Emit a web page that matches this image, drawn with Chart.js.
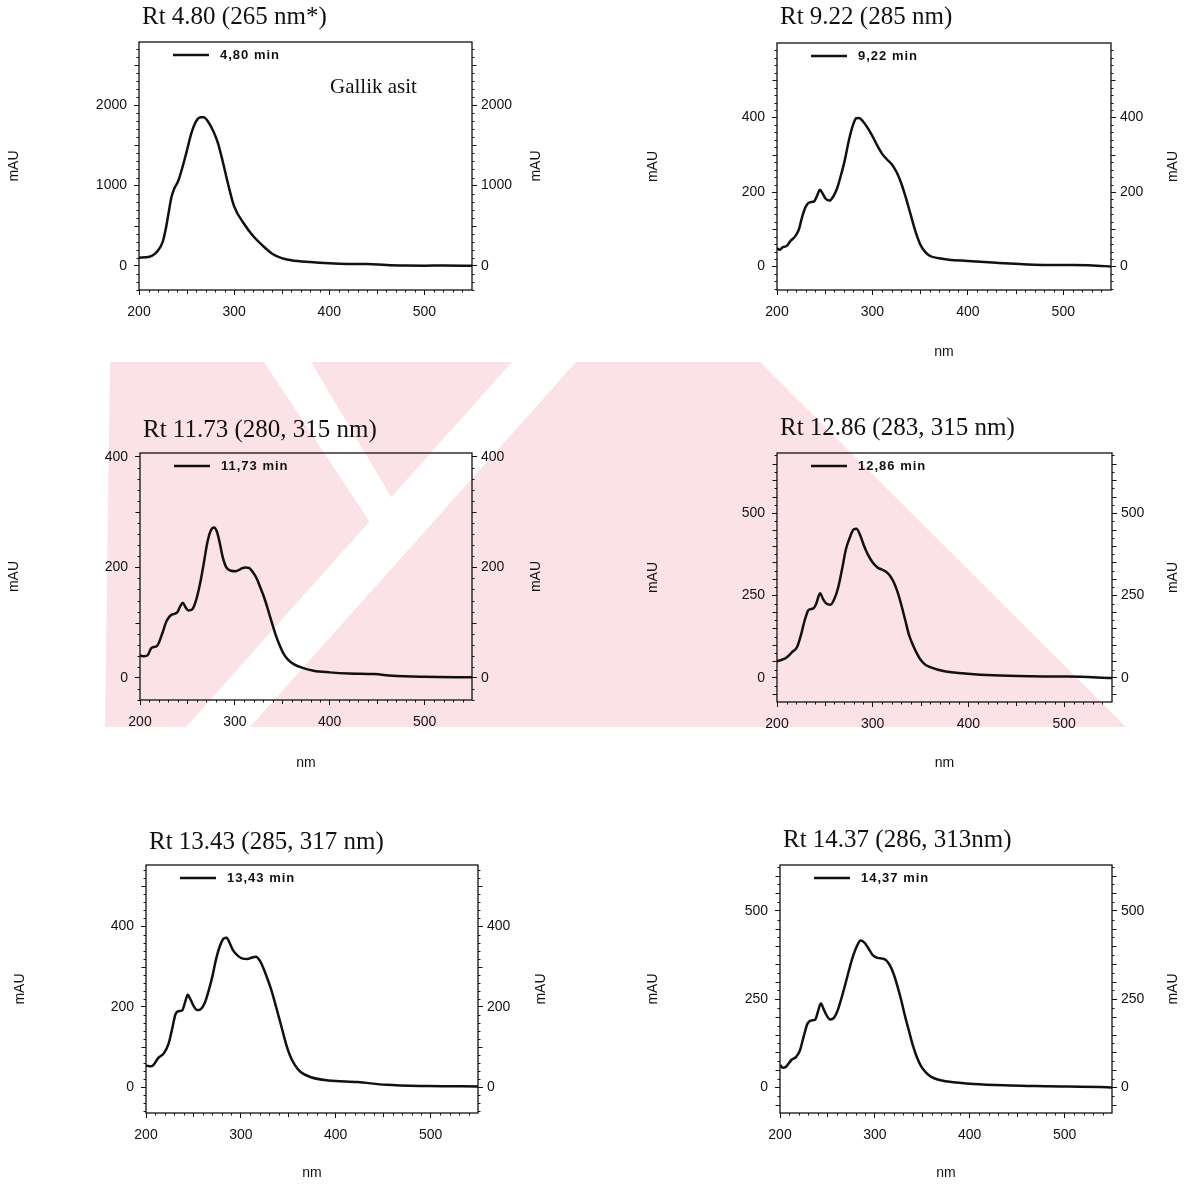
<!DOCTYPE html>
<html>
<head>
<meta charset="utf-8">
<script src="https://cdn.jsdelivr.net/npm/chart.js@4.4.1/dist/chart.umd.min.js"></script>
<style>
  html, body { margin: 0; padding: 0; background: #fff; }
  body { width: 1189px; height: 1185px; position: relative; overflow: hidden; }
  canvas, svg { position: absolute; }
</style>
</head>
<body>
<!-- faint scan watermark behind the middle row -->
<svg width="1189" height="1185" style="left:0;top:0">
  <path fill="#fbe2e6" d="M110 362 L760 362 L1126 727 L105 727 Z"/>
  <path fill="#fff" d="M264 362 L311 362 L396 505 L373 527 Z"/>
  <path fill="#fff" d="M512 362 L576 362 L250 727 L186 727 Z"/>
</svg>
<script>
// UV spectra (nm -> mAU)
const wl480 = [200, 211, 220, 225, 228, 231, 234, 237, 241, 245, 250, 255, 260, 265, 268, 273, 278, 283, 288, 294, 300, 310, 320, 330, 340, 350, 360, 380, 400, 420, 440, 460, 480, 500, 520, 550];
const mau480 = [100, 112, 190, 300, 450, 650, 850, 960, 1050, 1200, 1420, 1650, 1800, 1850, 1850, 1790, 1680, 1530, 1300, 1000, 740, 530, 370, 250, 150, 95, 68, 45, 30, 22, 20, 8, 2, 0, 2, 0];

const wl922 = [200, 203, 206, 210, 214, 219, 223, 226, 230, 234, 239, 242, 245, 248, 251, 255, 259, 263, 267, 271, 275, 279, 283, 286, 290, 295, 300, 305, 310, 315, 320, 325, 330, 335, 340, 345, 350, 355, 360, 370, 380, 400, 430, 470, 500, 530, 550];
const mau922 = [49, 45, 52, 55, 68, 81, 100, 130, 160, 172, 175, 190, 206, 195, 182, 177, 188, 210, 245, 285, 335, 375, 398, 399, 390, 372, 350, 325, 303, 288, 275, 255, 225, 185, 140, 95, 60, 40, 29, 22, 18, 15, 10, 5, 4, 3, 0];

const wl1173 = [200, 203, 208, 212, 218, 223, 228, 233, 239, 242, 245, 248, 251, 255, 259, 263, 267, 271, 275, 278, 281, 284, 287, 291, 296, 301, 306, 311, 315, 319, 323, 327, 331, 335, 339, 343, 347, 351, 356, 362, 370, 383, 400, 420, 447, 466, 500, 550];
const mau1173 = [41, 39, 41, 54, 58, 78, 103, 114, 118, 128, 136, 128, 122, 124, 140, 168, 205, 245, 268, 272, 265, 245, 220, 200, 194, 193, 197, 200, 199, 191, 180, 163, 145, 123, 100, 78, 60, 45, 33, 25, 19, 13, 10, 8, 7, 4, 2, 1];

const wl1286 = [200, 205, 210, 216, 221, 225, 229, 233, 238, 241, 245, 248, 251, 256, 260, 264, 268, 272, 276, 280, 283, 287, 291, 295, 300, 305, 310, 314, 318, 322, 326, 330, 334, 338, 342, 346, 350, 355, 360, 375, 399, 426, 465, 504, 550];
const mau1286 = [51, 55, 62, 79, 94, 130, 175, 206, 211, 225, 257, 240, 227, 222, 240, 275, 330, 390, 425, 450, 452, 432, 400, 374, 350, 335, 328, 322, 310, 290, 260, 220, 175, 130, 100, 75, 55, 40, 33, 20, 13, 8, 5, 4, 0];

const wl1343 = [200, 205, 208, 213, 219, 224, 228, 231, 234, 238, 241, 244, 247, 250, 254, 257, 262, 266, 270, 274, 278, 282, 285, 288, 292, 297, 302, 307, 312, 316, 320, 324, 328, 332, 336, 340, 344, 348, 352, 357, 363, 374, 392, 423, 453, 498, 550];
const mau1343 = [54, 52, 56, 73, 85, 110, 150, 181, 189, 191, 210, 230, 218, 203, 192, 193, 210, 240, 276, 320, 352, 370, 372, 360, 340, 327, 320, 319, 323, 325, 315, 295, 270, 243, 210, 175, 140, 105, 78, 55, 38, 25, 17, 13, 6, 3, 2];

const wl1437 = [200, 203, 206, 212, 217, 221, 225, 229, 233, 237, 240, 243, 246, 249, 253, 257, 261, 265, 269, 273, 277, 281, 285, 289, 293, 298, 303, 308, 312, 316, 320, 324, 328, 332, 336, 340, 344, 349, 354, 359, 367, 377, 404, 443, 482, 545, 550];
const mau1437 = [64, 56, 58, 78, 87, 105, 145, 181, 190, 192, 215, 238, 222, 205, 193, 198, 220, 255, 294, 335, 372, 400, 416, 410, 395, 374, 367, 365, 360, 345, 320, 285, 245, 200, 160, 120, 88, 59, 42, 31, 22, 17, 10, 6, 4, 1, 0];

const titles = ['Rt 4.80 (265 nm*)', 'Rt 9.22 (285 nm)', 'Rt 11.73 (280, 315 nm)', 'Rt 12.86 (283, 315 nm)', 'Rt 13.43 (285, 317 nm)', 'Rt 14.37 (286, 313nm)'];
const runLabels = ['4,80 min', '9,22 min', '11,73 min', '12,86 min', '13,43 min', '14,37 min'];
const wlSets = [wl480, wl922, wl1173, wl1286, wl1343, wl1437];
const mauSets = [mau480, mau922, mau1173, mau1286, mau1343, mau1437];
const yMin = [-303, -63, -40, -73, -64, -72];
const yMax = [2790, 600, 407, 682, 553, 630];
const yTickSets = [[0, 1000, 2000], [0, 200, 400], [0, 200, 400], [0, 250, 500], [0, 200, 400], [0, 250, 500]];
const xTicks = [200, 300, 400, 500];

// page placement of each panel (plot box, title line, side labels)
const layouts = [
  { l: 139, r: 472, t: 42, b: 290, titleY: 17, mauL: 14, mauR: 536, nmY: null, note: 'Gallik asit' },
  { l: 777, r: 1111, t: 43, b: 290, titleY: 17, mauL: 653, mauR: 1173, nmY: 352 },
  { l: 140, r: 472, t: 453, b: 700, titleY: 430, mauL: 14, mauR: 536, nmY: 763 },
  { l: 777, r: 1112, t: 453, b: 702, titleY: 428, mauL: 653, mauR: 1173, nmY: 763 },
  { l: 146, r: 478, t: 865, b: 1113, titleY: 842, mauL: 20, mauR: 541, nmY: 1173 },
  { l: 780, r: 1112, t: 865, b: 1113, titleY: 840, mauL: 653, mauR: 1173, nmY: 1173 }
];

const INK = '#111';
const SANS = '"Liberation Sans", Arial, sans-serif';
const SERIF = '"Liberation Serif", "Times New Roman", serif';
const tickFont = { family: SANS, size: 14 };

// frame, minor ticks, titles, legend and side labels
const panelDecor = {
  id: 'panelDecor',
  afterDraw(chart, args, o) {
    const { ctx, chartArea: a, scales } = chart;
    const x = scales.x, y = scales.y;
    ctx.save();
    ctx.strokeStyle = INK;
    ctx.lineWidth = 1.3;
    ctx.strokeRect(a.left, a.top, a.right - a.left, a.bottom - a.top);

    ctx.lineWidth = 1;
    ctx.beginPath();
    for (let v = 210; v < 550; v += 10) {
      if (v % 100 === 0) continue;
      const len = v % 50 === 0 ? 4 : 2.5;
      const px = Math.round(x.getPixelForValue(v)) + 0.5;
      ctx.moveTo(px, a.bottom);
      ctx.lineTo(px, a.bottom + len);
    }
    const start = Math.ceil(y.min / o.yMinor) * o.yMinor;
    for (let v = start; v <= y.max; v += o.yMinor) {
      if (Math.abs(v % o.yMajor) < 1e-6) continue;
      const len = Math.abs(v % o.yMid) < 1e-6 ? 4.5 : 2.5;
      const py = Math.round(y.getPixelForValue(v)) + 0.5;
      ctx.moveTo(a.left, py); ctx.lineTo(a.left - len, py);
      ctx.moveTo(a.right, py); ctx.lineTo(a.right + len, py);
    }
    ctx.stroke();

    ctx.fillStyle = INK;
    ctx.textBaseline = 'middle';
    ctx.font = '25px ' + SERIF;
    ctx.fillText(o.title, a.left + 3, o.titleY);

    if (o.note) {
      ctx.font = '21px ' + SERIF;
      ctx.fillText(o.note, a.left + 191, a.top + 45);
    }

    const ds = chart.data.datasets[0];
    ctx.strokeStyle = ds.borderColor;
    ctx.lineWidth = 2.5;
    ctx.beginPath();
    ctx.moveTo(a.left + 34, a.top + 13);
    ctx.lineTo(a.left + 70, a.top + 13);
    ctx.stroke();
    ctx.font = 'bold 13px ' + SANS;
    ctx.letterSpacing = '1px';
    ctx.fillText(ds.label, a.left + 81, a.top + 13);
    ctx.letterSpacing = '0px';

    ctx.font = '14px ' + SANS;
    ctx.textAlign = 'center';
    const cy = (a.top + a.bottom) / 2;
    [o.mauL, o.mauR].forEach(mx => {
      ctx.save();
      ctx.translate(mx, cy);
      ctx.rotate(-Math.PI / 2);
      ctx.fillText('mAU', 0, 0);
      ctx.restore();
    });
    ctx.restore();
  }
};

layouts.forEach((p, i) => {
  const cl = p.mauL - 12, cr = p.mauR + 12;
  const ct = p.titleY - 17;
  const cb = p.nmY ? p.nmY + 10 : p.b + 40;
  const cv = document.createElement('canvas');
  cv.width = cr - cl;
  cv.height = cb - ct;
  cv.style.left = cl + 'px';
  cv.style.top = ct + 'px';
  document.body.appendChild(cv);

  const leftW = p.l - cl, rightW = cr - p.r, bottomH = cb - p.b;
  const step = yTickSets[i][1];
  const yAxis = (pos, width, pad) => ({
    type: 'linear', position: pos, min: yMin[i], max: yMax[i],
    afterFit: s => { s.width = width; },
    afterBuildTicks: s => { s.ticks = yTickSets[i].map(v => ({ value: v })); },
    border: { display: false },
    grid: { drawOnChartArea: false, drawTicks: true, tickLength: 5, tickColor: INK, tickWidth: 1 },
    ticks: { color: INK, font: tickFont, padding: pad, callback: v => String(v) }
  });

  new Chart(cv, {
    type: 'line',
    data: {
      datasets: [{
        label: runLabels[i],
        data: wlSets[i].map((w, k) => ({ x: w, y: mauSets[i][k] })),
        borderColor: INK,
        borderWidth: 2.5,
        pointRadius: 0,
        cubicInterpolationMode: 'monotone',
        fill: false
      }]
    },
    options: {
      responsive: false,
      animation: false,
      layout: { padding: { top: p.t - ct, left: 0, right: 0, bottom: 0 } },
      plugins: {
        legend: { display: false },
        tooltip: { enabled: false },
        panelDecor: {
          title: titles[i], titleY: p.titleY - ct,
          mauL: p.mauL - cl, mauR: p.mauR - cl,
          note: p.note || null,
          yMajor: step, yMid: step === 250 ? 50 : step / 2, yMinor: step === 1000 ? 100 : (step === 250 ? 25 : 20)
        }
      },
      scales: {
        x: {
          type: 'linear', position: 'bottom', min: 200, max: 550,
          afterFit: s => { s.height = bottomH; },
          afterBuildTicks: s => { s.ticks = xTicks.map(v => ({ value: v })); },
          border: { display: false },
          grid: { drawOnChartArea: false, drawTicks: true, tickLength: 5, tickColor: INK, tickWidth: 1 },
          ticks: { color: INK, font: tickFont, padding: 9, maxRotation: 0, callback: v => String(v) },
          title: { display: !!p.nmY, text: 'nm', color: INK, font: { family: SANS, size: 14, lineHeight: 1 }, padding: { top: 0, bottom: 3 } }
        },
        y: yAxis('left', leftW, 7),
        y2: yAxis('right', rightW, 4)
      }
    },
    plugins: [panelDecor]
  });
});
</script>
</body>
</html>
